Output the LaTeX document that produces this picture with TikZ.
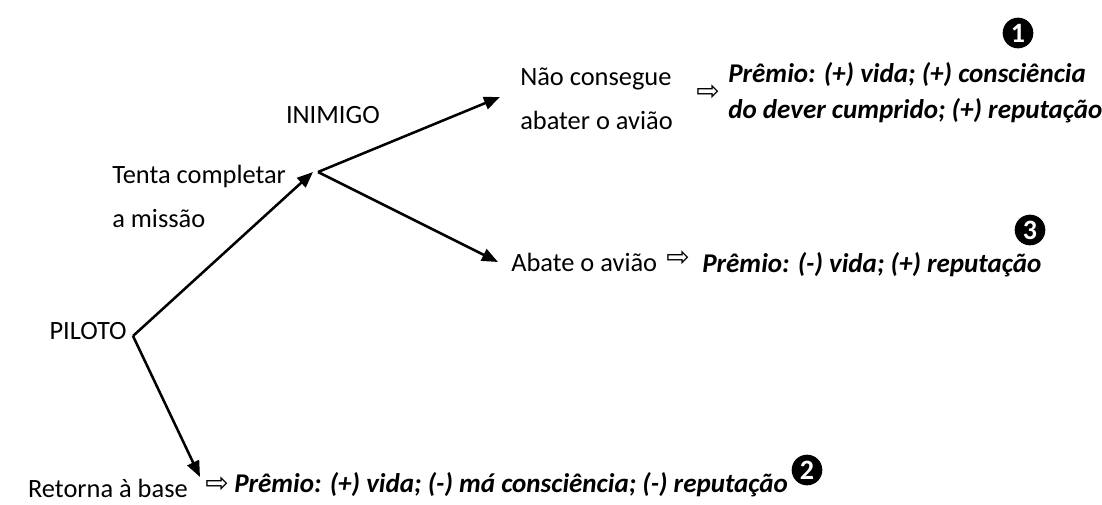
\documentclass[tikz,border=0pt]{standalone}
\usepackage{fontspec}
\setmainfont{Carlito}
\newfontfamily\symfont{DejaVu Sans}
\usetikzlibrary{arrows.meta}
\tikzset{
  lbl/.style={font=\fontsize{19.8}{33}\selectfont, inner sep=0pt, anchor=west, align=left},
  prize/.style={font=\fontsize{20.3}{27}\selectfont\bfseries\itshape, inner sep=0pt, anchor=west, align=left},
  edge/.style={line width=1.9pt, -{Triangle[length=12pt,width=9.5pt]}},
  impl/.style={font=\symfont\fontsize{21}{21}\selectfont, inner sep=0pt},
  num/.style={circle, fill=black, text=white, inner sep=0pt, minimum size=23pt, font=\fontsize{21}{21}\selectfont\bfseries}
}
\begin{document}
\begin{tikzpicture}[x=0.75pt,y=-0.75pt]
\useasboundingbox (0,0) rectangle (1102,504);
% nodes
\node[lbl, anchor=east] (piloto) at (127,331) {PILOTO};
\coordinate (v1) at (133,336);
\coordinate (v2) at (318,172);
\coordinate (t1) at (313,172);
\coordinate (t2) at (500,97);
\coordinate (t3) at (498,262);
\coordinate (t4) at (200,477);
\node[lbl, anchor=north west] (tenta) at (112,165) {Tenta completar\\a missão};
\node[lbl, anchor=east] (inimigo) at (380,115) {INIMIGO};
\node[lbl] (nao) at (520,99) {Não consegue\\abater o avião};
\node[impl] (i1) at (708,93) {⇨};
\node[prize] (p1) at (728,93) {Prêmio: (+) vida; (+) consciência\\do dever cumprido; (+) reputação};
\node[num] (n1) at (1018,33) {1};
\node[lbl] (abate) at (511,262) {Abate o avião};
\node[impl] (i3) at (678,259) {⇨};
\node[prize] (p3) at (702,265) {Prêmio: (-) vida; (+) reputação};
\node[num] (n3) at (1030,230) {3};
\node[lbl, anchor=east] (retorna) at (188,488) {Retorna à base};
\node[impl] (i2) at (217,485) {⇨};
\node[prize] (p2) at (234,485) {Prêmio: (+) vida; (-) má consciência; (-) reputação};
\node[num] (n2) at (807,470) {2};
% connectors
\draw[edge] (v1) -- (t1);
\draw[edge] (v1) -- (t4);
\draw[edge] (v2) -- (t2);
\draw[edge] (v2) -- (t3);
\end{tikzpicture}
\end{document}
